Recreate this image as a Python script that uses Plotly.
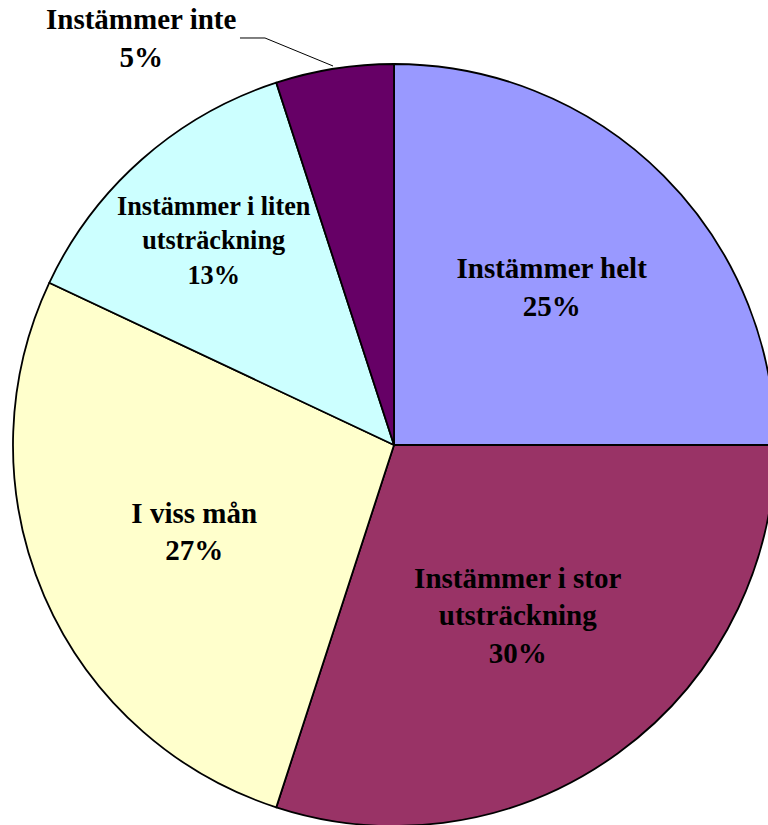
import plotly.graph_objects as go

categories = ["Instämmer helt", "Instämmer i stor utsträckning", "I viss mån",
              "Instämmer i liten utsträckning", "Instämmer inte"]
display_names = ["Instämmer helt", "Instämmer i stor<br>utsträckning", "I viss mån",
                 "Instämmer i liten<br>utsträckning", "Instämmer inte"]
values = [25, 30, 27, 13, 5]
colors = ["#9999FF", "#993366", "#FFFFCC", "#CCFFFF", "#660066"]

W, H = 790, 830
FONT = "Liberation Serif"
FS = 29

texts = [d if i < 4 else "" for i, d in enumerate(display_names)]
templates = ["<b>%{text}<br>%{percent:.0%}</b>"] * 4 + [""]

fig = go.Figure(go.Pie(
    labels=categories,
    values=values,
    text=texts,
    texttemplate=templates,
    textposition="inside",
    insidetextorientation="horizontal",
    sort=False,
    direction="clockwise",
    rotation=0,
    marker=dict(colors=colors, line=dict(color="#000000", width=1.8)),
    textfont=dict(family=FONT, size=FS, color="#000000"),
    domain=dict(x=[13 / W, 775 / W], y=[4 / H, 766 / H]),
    showlegend=False,
    hoverinfo="label+percent",
))

def px(x, y):
    return x / W, 1 - y / H

ax, ay = px(141, 38)
fig.add_annotation(
    x=ax, y=ay, xref="paper", yref="paper", showarrow=False,
    text="<b>%s<br>%d%%</b>" % (display_names[4], values[4]),
    font=dict(family=FONT, size=FS, color="#000000"),
    xanchor="center", yanchor="middle",
)
p1 = px(240, 38); p2 = px(265, 38); p3 = px(333, 66)
fig.add_shape(
    type="path", xref="paper", yref="paper",
    path="M %f %f L %f %f L %f %f" % (p1[0], p1[1], p2[0], p2[1], p3[0], p3[1]),
    line=dict(color="#000000", width=1),
)

fig.update_layout(
    width=W, height=H,
    margin=dict(l=0, r=0, t=0, b=0),
    paper_bgcolor="#FFFFFF",
    plot_bgcolor="#FFFFFF",
)

fig.write_html("out.html",
               config={"displayModeBar": False},
               post_script="document.body.style.margin='0';document.body.style.overflow='hidden';")
